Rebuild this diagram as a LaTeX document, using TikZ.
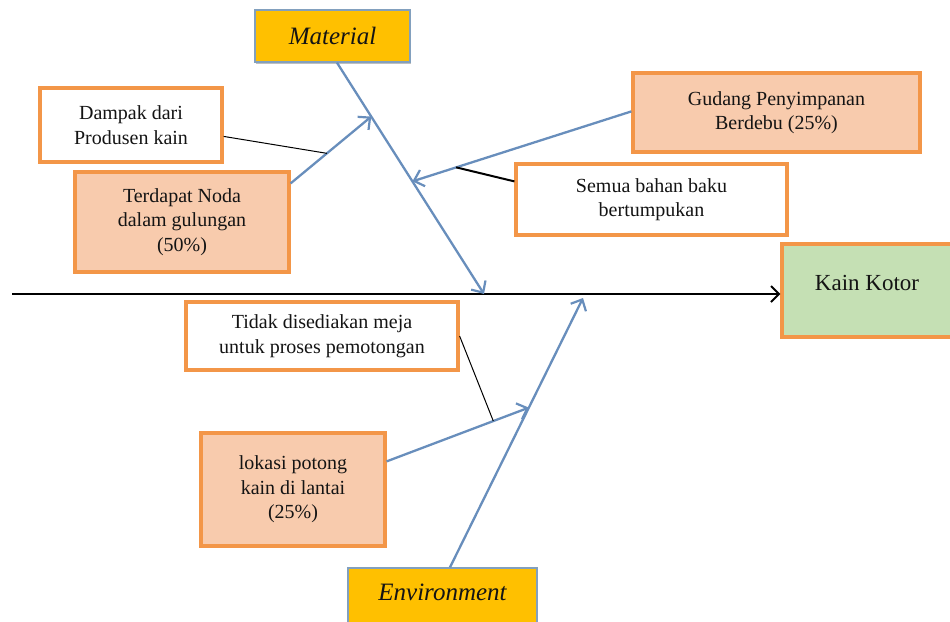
\documentclass[tikz,border=0pt]{standalone}
\usepackage{fontspec}
\setmainfont{Liberation Serif}
\usetikzlibrary{arrows.meta,calc,shadows}
\definecolor{boneblue}{RGB}{104,142,188}
\definecolor{causeorange}{RGB}{243,150,72}
\definecolor{peach}{RGB}{248,203,173}
\definecolor{gold}{RGB}{255,192,0}
\definecolor{effectgreen}{RGB}{197,224,180}
\definecolor{catedge}{RGB}{130,160,190}
\tikzset{
  softshadow/.style={drop shadow={shadow xshift=1.2pt, shadow yshift=-1.5pt, fill=black, opacity=0.25}},
  causebox/.style={draw=causeorange, line width=3.2pt, align=center, inner sep=2pt,
    font=\fontsize{20}{24.5}\selectfont, text=black!92, softshadow},
  plainbox/.style={causebox, fill=white},
  warmbox/.style={causebox, fill=peach},
  catbox/.style={draw=catedge, line width=1.4pt, fill=gold, align=center,
    font=\fontsize{25}{28}\selectfont\itshape, text=black!92, softshadow},
  bone/.style={draw=boneblue, line width=2.3pt, -{Straight Barb[length=9pt,width=17pt,line width=2.2pt]}},
  twig/.style={draw=black, line width=1pt},
}
\begin{document}
\begin{tikzpicture}[x=1pt,y=-1pt]
\useasboundingbox (0,0) rectangle (950,621);

% category and effect boxes
\node[catbox, minimum width=155pt, minimum height=52pt] (mat) at (332.5,36) {Material};
\node[catbox, minimum width=189pt, minimum height=60pt, text depth=12pt] (env) at (442.5,598) {Environment};
\node[causebox, fill=effectgreen, minimum width=170pt, minimum height=93pt,
      font=\fontsize{23}{26}\selectfont, text depth=16pt] (eff) at (867,290.5) {Kain Kotor};

% cause boxes
\node[plainbox, minimum width=182pt, minimum height=74pt] (dampak) at (131,125) {Dampak dari\\Produsen kain};
\node[warmbox, minimum width=214pt, minimum height=100pt] (noda) at (182,222) {Terdapat Noda\\dalam gulungan\\(50\%)};
\node[warmbox, minimum width=287pt, minimum height=79pt] (gudang) at (776.5,112.5) {Gudang Penyimpanan\\Berdebu (25\%)};
\node[plainbox, minimum width=271pt, minimum height=71pt] (semua) at (651.5,199.5) {Semua bahan baku\\bertumpukan};
\node[plainbox, minimum width=272pt, minimum height=68pt] (tidak) at (322,336) {Tidak disediakan meja\\untuk proses pemotongan};
\node[warmbox, minimum width=184pt, minimum height=113pt] (lokasi) at (293,489.5) {lokasi potong\\kain di lantai\\(25\%)};

% spine
\coordinate (tail) at (12,294);
\draw[line width=2.4pt, -{Straight Barb[length=8pt,width=16pt,line width=2pt]}] (tail) -- (eff.west |- tail);

% main bones
\coordinate (mtop) at ($(mat.south)+(4.5,0)$);
\coordinate (mhead) at (484,294);
\draw[bone] (mtop) -- (mhead);
\coordinate (etop) at ($(env.north)+(7.5,0)$);
\coordinate (ehead) at (583,298);
\draw[bone] (etop) -- (ehead);

% sub-bones onto the material bone
\coordinate (nodaout) at ($(noda.north east)+(0,13)$);
\coordinate (nodain) at ($(mtop)!0.233!(mhead)$);
\draw[bone] (nodaout) -- (nodain);
\coordinate (gudangout) at ($(gudang.north west)+(0,40)$);
\coordinate (gudangin) at ($(mtop)!0.513!(mhead)$);
\draw[bone] (gudangout) -- (gudangin);

% sub-bone onto the environment bone
\coordinate (lokasiout) at ($(lokasi.north east)+(0,30)$);
\coordinate (lokasiin) at ($(etop)!0.593!(ehead)$);
\draw[bone] (lokasiout) -- (lokasiin);

% secondary causes
\draw[twig] ($(dampak.north east)+(0,50)$) -- ($(nodaout)!0.45!(nodain)$);
\draw[twig, line width=2pt] ($(semua.north west)+(0,19)$) -- ($(gudangout)!0.8!(gudangin)$);
\draw[twig] (tidak.east) -- ($(lokasiout)!0.75!(lokasiin)$);
\end{tikzpicture}
\end{document}
